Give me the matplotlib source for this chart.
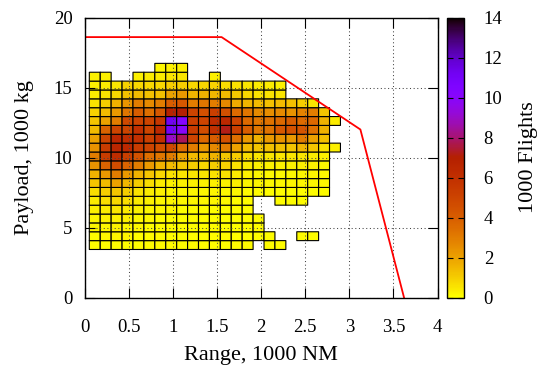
import numpy as np
import matplotlib
matplotlib.use("Agg")
import matplotlib.pyplot as plt
from matplotlib.colors import ListedColormap

plt.rcParams['font.family'] = ['Liberation Serif', 'DejaVu Serif']
plt.rcParams['font.size'] = 13.5

N = None
# Flights (thousands) per bin; rows from top (highest payload) to bottom, 23 range bins
row00 = [N, N, N, N, N, N, 0.2, 0.3, 0.3, N, N, N, N, N, N, N, N, N, N, N, N, N, N]
row01 = [0.3, 0.3, N, N, 0.3, 0.4, 0.4, 0.5, 0.5, N, N, 0.3, N, N, N, N, N, N, N, N, N, N, N]
row02 = [0.3, 0.4, 0.5, 0.9, 0.8, 0.8, 0.8, 1.0, 1.0, 0.8, 0.8, 0.9, 0.7, 0.6, 0.5, 0.4, 0.4, 0.3, N, N, N, N, N]
row03 = [0.4, 0.6, 0.8, 1.3, 1.4, 1.3, 1.3, 2.0, 2.2, 1.5, 1.6, 1.5, 1.4, 1.1, 0.8, 0.6, 0.6, 0.5, N, N, N, N, N]
row04 = [0.6, 1.0, 1.6, 2.3, 3.0, 2.6, 3.0, 4.0, 4.2, 3.0, 3.2, 3.0, 2.6, 1.8, 1.5, 1.4, 1.3, 1.4, 1.3, 1.0, 0.5, N, N]
row05 = [0.9, 1.4, 2.2, 3.2, 4.0, 3.4, 4.2, 6.8, 7.0, 5.0, 4.5, 5.2, 4.5, 3.5, 3.2, 2.6, 2.5, 2.6, 2.4, 2.8, 3.0, 1.2, N]
row06 = [1.2, 2.0, 3.0, 4.8, 5.0, 5.0, 5.6, 11.2, 10.2, 5.2, 5.0, 6.2, 6.5, 5.0, 3.6, 3.2, 3.3, 3.6, 4.0, 3.5, 3.6, 1.6, 0.4]
row07 = [1.4, 3.8, 5.0, 5.0, 6.0, 5.0, 6.5, 11.0, 10.0, 5.4, 4.6, 6.0, 7.2, 5.2, 4.0, 3.2, 3.3, 4.2, 4.4, 4.3, 3.3, 1.6, N]
row08 = [2.0, 5.0, 6.6, 6.2, 6.0, 5.2, 6.0, 9.0, 7.8, 5.0, 3.6, 4.0, 4.5, 3.4, 2.2, 1.6, 2.2, 2.4, 2.2, 3.0, 2.0, 1.3, N]
row09 = [2.4, 5.4, 6.6, 6.4, 5.4, 5.0, 4.6, 4.8, 3.4, 3.0, 2.2, 2.6, 3.0, 2.0, 1.4, 1.2, 1.3, 1.3, 1.2, 1.5, 1.2, 0.6, 0.3]
row10 = [3.0, 5.4, 6.2, 5.2, 4.4, 3.4, 3.2, 3.0, 2.0, 1.4, 1.4, 1.6, 1.2, 1.0, 0.7, 0.5, 0.5, 0.5, 0.5, 0.5, 0.4, 0.3, N]
row11 = [2.4, 3.8, 4.6, 3.8, 3.0, 2.2, 1.6, 1.4, 1.2, 1.0, 0.8, 1.0, 0.9, 0.6, 0.4, 0.3, 0.3, 0.3, 0.3, 0.3, 0.3, 0.2, N]
row12 = [1.6, 2.2, 3.0, 2.2, 1.6, 1.2, 0.8, 0.6, 0.5, 0.5, 0.5, 0.6, 0.6, 0.4, 0.3, 0.2, 0.2, 0.2, 0.2, 0.2, 0.2, 0.2, N]
row13 = [1.2, 1.4, 2.0, 1.5, 1.0, 0.7, 0.4, 0.3, 0.3, 0.3, 0.3, 0.3, 0.3, 0.3, 0.2, 0.2, 0.2, 0.2, 0.2, 0.2, 0.2, 0.2, N]
row14 = [0.7, 1.0, 1.2, 1.0, 0.6, 0.4, 0.3, 0.2, 0.2, 0.2, 0.2, 0.2, 0.2, 0.2, 0.1, 0.1, 0.1, 0.1, 0.1, 0.1, 0.1, 0.1, N]
row15 = [0.4, 0.7, 0.8, 0.7, 0.4, 0.3, 0.2, 0.2, 0.2, 0.2, 0.2, 0.2, 0.2, 0.1, 0.1, N, N, 0.1, 0.1, 0.1, N, N, N]
row16 = [0.3, 0.4, 0.5, 0.4, 0.3, 0.2, 0.2, 0.2, 0.1, 0.1, 0.1, 0.1, 0.1, 0.1, 0.1, N, N, N, N, N, N, N, N]
row17 = [0.2, 0.3, 0.3, 0.3, 0.2, 0.2, 0.1, 0.1, 0.1, 0.1, 0.1, 0.1, 0.1, 0.1, 0.1, 0.1, N, N, N, N, N, N, N]
row18 = [0.2, 0.2, 0.3, 0.2, 0.2, 0.1, 0.1, 0.1, 0.1, 0.1, 0.1, 0.1, 0.1, 0.1, 0.1, 0.1, N, N, N, N, N, N, N]
row19 = [0.1, 0.2, 0.2, 0.2, 0.1, 0.1, 0.1, 0.1, 0.1, 0.1, 0.1, 0.1, 0.1, 0.1, 0.1, 0.1, 0.1, N, N, 0.1, 0.1, N, N]
row20 = [0.1, 0.1, 0.1, 0.1, 0.1, 0.1, 0.1, 0.1, 0.1, 0.1, 0.1, 0.1, 0.1, 0.1, 0.1, N, 0.1, 0.1, N, N, N, N, N]

rows_top_to_bottom = [row00, row01, row02, row03, row04, row05, row06, row07, row08, row09,
                      row10, row11, row12, row13, row14, row15, row16, row17, row18, row19, row20]

range_bin_start = 0.049      # 1000 NM
range_bin_width = 0.1239
payload_bin_start = 3.43     # 1000 kg
payload_bin_height = 0.633

# payload-range envelope
env_range = [0.0, 1.55, 3.125, 3.62]
env_payload = [18.6, 18.6, 12.0, 0.0]

x_ticks = [0, 0.5, 1, 1.5, 2, 2.5, 3, 3.5, 4]
x_ticklabels = ['0', '0.5', '1', '1.5', '2', '2.5', '3', '3.5', '4']
y_ticks = [0, 5, 10, 15, 20]
cb_ticks = [0, 2, 4, 6, 8, 10, 12, 14]

# gnuplot-like palette (rgbformulae 7,5,15) reversed
t = np.linspace(0, 1, 256)
xx = 1 - t
cols = np.stack([np.sqrt(xx), xx ** 3, np.clip(np.sin(2 * np.pi * xx), 0, 1)], axis=1)
cmap = ListedColormap(cols)

Z = np.array([[np.nan if v is None else v for v in r] for r in rows_top_to_bottom[::-1]], dtype=float)
Zm = np.ma.masked_invalid(Z)
nrow, ncol = Z.shape
xe = range_bin_start + range_bin_width * np.arange(ncol + 1)
ye = payload_bin_start + payload_bin_height * np.arange(nrow + 1)

fig = plt.figure(figsize=(5.38, 3.74), dpi=100)
ax = fig.add_axes([85 / 538, 1 - 297.5 / 374, 352.5 / 538, 280 / 374])
cax = fig.add_axes([446.7 / 538, 1 - 297.5 / 374, 17.6 / 538, 280 / 374])

pc = ax.pcolor(xe, ye, Zm, cmap=cmap, vmin=0, vmax=14, edgecolors='black', linewidths=0.8, zorder=1)
ax.plot(env_range, env_payload, color='#ff0000', lw=1.3, zorder=4)

ax.set_xlim(0, 4)
ax.set_ylim(0, 20)
ax.set_xticks(x_ticks)
ax.set_xticklabels(x_ticklabels)
ax.set_yticks(y_ticks)
ax.tick_params(direction='in', length=7, width=0.8, top=True, right=True)
ax.tick_params(axis='x', pad=15.5)
ax.tick_params(axis='y', pad=9)
ax.set_axisbelow(False)
ax.grid(True, color='#444444', linestyle=(0, (1, 2.5)), linewidth=0.75, zorder=3)
for s in ax.spines.values():
    s.set_linewidth(1.0)
    s.set_zorder(5)
ax.set_xlabel('Range, 1000 NM', fontsize=16, labelpad=7)
ax.set_ylabel('Payload, 1000 kg', fontsize=16, labelpad=14)

cb = fig.colorbar(pc, cax=cax, ticks=cb_ticks)
cb.ax.tick_params(direction='in', length=4.5, width=0.8, left=True, right=True, pad=14)
cb.outline.set_linewidth(1.0)
cb.set_label('1000 Flights', fontsize=16, labelpad=12)

fig.savefig('out.png', dpi=100)
